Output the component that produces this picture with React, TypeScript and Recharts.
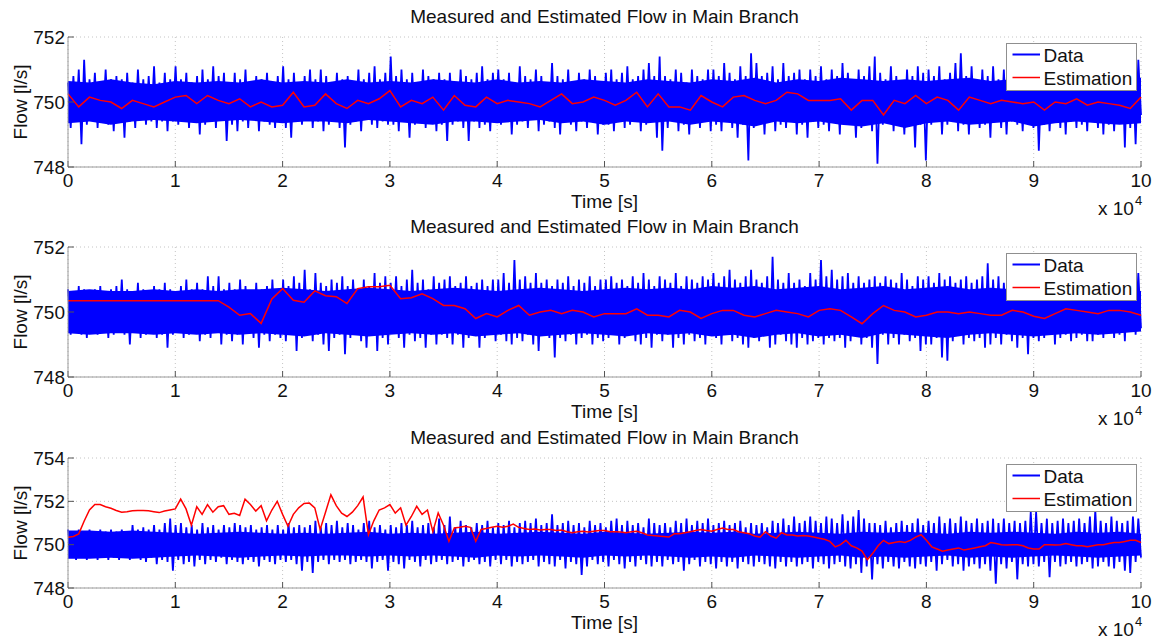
import {
  Area,
  CartesianGrid,
  ComposedChart,
  Legend,
  Line,
  XAxis,
  YAxis
} from "recharts";

const panelTitle = "Measured and Estimated Flow in Main Branch";
const timeTicks = [0, 10000, 20000, 30000, 40000, 50000, 60000, 70000, 80000, 90000, 100000];
const flowTicksNarrow = [748, 750, 752];
const flowTicksWide = [748, 750, 752, 754];

// measured flow, panel 1: dense signal read as alternating peaks / troughs (250 s apart)
const measured1 = [
  750.6, 749.2, 750.8, 749.4, 751.0, 748.7, 751.3, 749.3, 750.7, 749.5, 750.9, 749.2, 750.6, 749.4, 751.0, 749.3, 750.7, 749.1, 750.8, 749.5,
  750.7, 748.9, 750.9, 749.4, 750.6, 749.2, 751.0, 749.5, 750.7, 749.3, 750.8, 749.4, 751.1, 749.2, 750.6, 749.4, 750.9, 749.1, 750.7, 749.4,
  751.1, 749.3, 750.7, 749.5, 750.9, 749.2, 750.6, 749.4, 750.8, 749.0, 751.0, 749.3, 750.7, 749.4, 751.1, 749.2, 750.8, 749.5, 750.9, 748.8,
  750.6, 749.3, 750.9, 749.1, 750.7, 749.4, 751.0, 749.2, 750.6, 749.5, 750.8, 749.1, 750.7, 749.4, 750.9, 749.3, 750.6, 749.2, 750.8, 749.4,
  751.1, 749.2, 750.7, 748.9, 750.9, 749.4, 750.6, 749.3, 750.8, 749.5, 751.0, 749.2, 750.7, 749.4, 751.0, 749.1, 750.8, 749.3, 750.6, 749.4,
  750.9, 749.2, 750.7, 748.6, 750.8, 749.3, 750.6, 749.4, 751.0, 749.1, 750.7, 749.5, 750.9, 749.3, 751.1, 749.2, 750.7, 749.4, 750.9, 749.3,
  751.4, 749.3, 750.8, 749.1, 751.0, 749.4, 750.7, 748.9, 750.9, 749.3, 750.6, 749.4, 751.0, 749.2, 750.8, 749.5, 750.7, 749.1, 750.9, 749.3,
  750.7, 748.8, 750.9, 749.3, 750.6, 749.4, 751.0, 749.2, 750.8, 748.8, 750.7, 749.4, 750.9, 749.2, 751.1, 749.3, 750.7, 749.1, 750.9, 749.4,
  751.0, 749.3, 750.7, 749.4, 750.9, 749.0, 750.6, 749.3, 751.1, 749.4, 750.8, 749.2, 750.7, 749.5, 751.0, 749.1, 750.8, 749.3, 750.6, 749.4,
  751.2, 749.2, 750.8, 749.0, 750.7, 749.4, 751.0, 749.3, 750.6, 749.1, 750.9, 749.4, 750.7, 749.2, 751.0, 749.4, 750.8, 749.0, 750.6, 749.3,
  750.9, 749.3, 751.0, 749.1, 750.7, 749.4, 750.9, 749.2, 751.1, 749.3, 750.7, 749.4, 750.8, 749.1, 751.0, 749.3, 751.2, 749.4, 750.8, 748.9,
  751.4, 748.5, 750.8, 749.2, 750.7, 749.4, 751.0, 749.1, 750.9, 749.3, 750.6, 749.0, 751.0, 749.4, 750.8, 749.2, 750.7, 749.4, 751.0, 749.1,
  751.0, 749.3, 750.8, 749.1, 751.2, 749.4, 750.9, 749.2, 750.7, 748.9, 751.1, 749.3, 750.8, 748.2, 751.5, 749.2, 751.2, 749.4, 750.8, 749.0,
  750.9, 749.4, 751.1, 749.1, 750.7, 749.3, 751.2, 749.2, 750.8, 749.4, 750.9, 749.0, 751.0, 749.3, 750.7, 748.9, 751.0, 749.4, 750.8, 749.2,
  751.1, 749.3, 750.7, 749.1, 751.0, 749.4, 750.8, 749.0, 751.2, 749.3, 750.9, 749.4, 750.7, 748.9, 751.0, 749.2, 750.8, 749.4, 751.1, 749.1,
  751.4, 748.1, 750.9, 749.3, 750.7, 749.4, 751.1, 749.1, 750.8, 749.4, 750.6, 749.0, 751.0, 749.3, 750.8, 748.6, 751.1, 749.3, 750.9, 748.2,
  751.0, 749.3, 750.8, 749.4, 751.1, 749.0, 750.7, 749.3, 750.9, 749.4, 751.2, 749.1, 751.5, 749.3, 750.8, 749.0, 751.1, 749.4, 750.7, 749.2,
  751.0, 749.3, 750.8, 748.9, 751.1, 749.4, 750.7, 749.2, 751.0, 749.0, 750.8, 749.4, 751.1, 749.3, 750.7, 749.1, 750.9, 749.4, 751.0, 749.2,
  751.2, 748.5, 750.8, 749.3, 751.0, 749.1, 750.7, 749.4, 751.1, 749.2, 750.8, 749.0, 751.0, 749.4, 750.7, 749.2, 751.1, 749.3, 750.8, 749.1,
  751.0, 749.4, 750.8, 749.2, 751.2, 749.0, 750.9, 749.3, 751.0, 749.1, 750.7, 749.4, 751.2, 748.6, 751.5, 749.2, 750.9, 748.7, 751.3, 749.6
];

// solid core of the measured band, panel 1 (2000 s apart)
const core1Low = [
  749.35, 749.4, 749.3, 749.4, 749.45, 749.4, 749.35, 749.4, 749.45, 749.4,
  749.35, 749.4, 749.4, 749.35, 749.45, 749.4, 749.35, 749.3, 749.4, 749.4,
  749.35, 749.4, 749.45, 749.35, 749.4, 749.3, 749.4, 749.35, 749.4, 749.3,
  749.4, 749.35, 749.25, 749.4, 749.35, 749.4, 749.3, 749.25, 749.35, 749.2,
  749.35, 749.4, 749.3, 749.35, 749.4, 749.25, 749.35, 749.4, 749.35, 749.3,
  749.35
];
const core1High = [
  750.65, 750.6, 750.7, 750.6, 750.55, 750.65, 750.6, 750.65, 750.6, 750.7,
  750.6, 750.65, 750.6, 750.7, 750.6, 750.65, 750.6, 750.7, 750.65, 750.6,
  750.7, 750.6, 750.65, 750.6, 750.7, 750.65, 750.6, 750.7, 750.65, 750.6,
  750.7, 750.65, 750.75, 750.6, 750.7, 750.65, 750.75, 750.7, 750.65, 750.7,
  750.65, 750.7, 750.75, 750.65, 750.7, 750.7, 750.65, 750.7, 750.65, 750.7,
  750.75
];

// estimated flow, panel 1 (1000 s apart)
const estimated1 = [
  750.25, 749.85, 750.15, 750.05, 750.0, 749.8, 750.05, 749.95, 749.85, 750.0,
  750.15, 750.2, 749.95, 750.2, 750.05, 749.95, 750.1, 749.85, 750.0, 749.85,
  749.9, 750.3, 749.85, 749.9, 750.25, 749.95, 749.8, 750.05, 749.95, 750.1,
  750.35, 749.85, 750.05, 749.95, 750.15, 749.75, 750.2, 749.9, 749.85, 750.15,
  749.95, 750.05, 750.0, 749.95, 749.85, 750.05, 750.25, 749.95, 750.0, 750.15,
  750.05, 749.9, 750.05, 750.3, 749.85, 750.25, 749.85, 749.85, 749.75, 750.2,
  750.0, 749.85, 750.15, 750.2, 750.05, 749.95, 750.05, 750.3, 750.25, 750.05,
  750.05, 750.05, 750.1, 749.75, 750.05, 750.05, 749.6, 750.05, 749.95, 750.2,
  749.95, 750.15, 750.05, 749.75, 750.15, 750.05, 749.95, 750.05, 750.0, 749.95,
  750.0, 749.75, 750.0, 749.95, 750.1, 749.9, 750.0, 749.95, 749.9, 749.8,
  750.15
];

const measured2 = [
  750.7, 749.3, 750.6, 749.4, 750.8, 749.3, 750.7, 749.2, 750.6, 749.4, 750.7, 749.3, 750.8, 749.4, 750.6, 749.2, 750.7, 749.3, 750.8, 749.4,
  751.0, 749.3, 750.7, 749.0, 750.6, 749.4, 750.9, 749.2, 750.7, 749.3, 750.6, 749.4, 750.8, 749.2, 750.7, 749.3, 750.9, 748.9, 750.7, 749.3,
  750.6, 749.4, 750.8, 749.2, 751.0, 749.3, 750.7, 749.4, 750.9, 749.1, 750.7, 749.3, 751.1, 749.2, 750.8, 749.4, 751.1, 749.0, 750.7, 749.3,
  750.9, 749.1, 750.7, 749.3, 751.0, 749.0, 750.8, 749.4, 750.6, 749.2, 750.9, 748.9, 750.7, 749.3, 750.8, 749.1, 751.0, 749.3, 750.7, 749.2,
  751.0, 749.1, 750.8, 749.3, 751.1, 748.8, 750.9, 749.2, 751.3, 749.4, 750.7, 749.1, 751.2, 749.3, 750.9, 749.0, 750.8, 748.8, 751.0, 749.2,
  750.9, 749.3, 751.1, 748.7, 750.8, 749.2, 751.0, 749.4, 750.7, 749.1, 751.0, 748.9, 750.8, 749.3, 751.2, 748.8, 750.9, 749.2, 751.1, 749.0,
  750.9, 749.4, 751.1, 749.2, 750.8, 748.9, 751.0, 749.3, 751.3, 749.1, 750.9, 749.2, 751.0, 748.9, 750.7, 749.3, 751.1, 749.0, 750.9, 749.3,
  751.0, 749.2, 751.1, 749.0, 750.8, 749.3, 750.9, 748.9, 751.1, 749.2, 750.8, 749.3, 750.9, 748.9, 751.0, 749.2, 750.8, 749.4, 751.0, 749.1,
  751.0, 749.3, 751.2, 749.1, 750.9, 749.0, 751.6, 749.2, 751.0, 749.1, 751.1, 749.3, 750.9, 749.0, 751.2, 748.8, 750.9, 749.3, 751.0, 749.2,
  750.8, 748.6, 751.0, 749.2, 750.9, 749.1, 751.1, 749.3, 750.8, 749.0, 751.0, 749.2, 750.9, 749.3, 751.1, 749.0, 750.8, 749.2, 751.0, 749.1,
  751.0, 749.2, 751.1, 749.3, 750.9, 749.0, 751.0, 749.2, 750.8, 749.3, 751.1, 749.1, 750.9, 749.0, 751.2, 749.2, 751.0, 748.9, 750.8, 749.3,
  751.1, 749.1, 751.0, 749.3, 750.9, 748.9, 751.2, 749.2, 750.8, 749.0, 751.1, 749.3, 751.0, 749.1, 750.9, 749.2, 751.1, 749.0, 751.0, 749.3,
  751.2, 749.2, 750.9, 749.0, 751.1, 749.3, 751.3, 749.1, 751.0, 749.2, 750.9, 749.0, 751.1, 748.9, 751.3, 749.2, 751.0, 749.1, 750.9, 749.3,
  751.1, 748.9, 751.7, 749.0, 751.0, 749.3, 750.9, 749.1, 751.2, 749.0, 750.9, 748.9, 751.0, 749.2, 750.8, 749.0, 751.2, 749.1, 751.0, 749.2,
  751.6, 749.0, 751.1, 749.2, 751.3, 749.1, 751.0, 749.2, 751.1, 748.9, 751.2, 749.1, 750.9, 749.3, 751.1, 749.0, 750.9, 749.2, 751.0, 748.9,
  751.1, 748.4, 750.9, 749.3, 751.1, 749.0, 751.0, 749.2, 750.9, 749.0, 751.2, 749.3, 751.0, 749.1, 750.8, 749.2, 751.1, 748.8, 751.0, 749.0,
  751.1, 749.0, 750.9, 749.2, 751.2, 748.6, 751.0, 748.5, 751.1, 749.1, 750.9, 749.3, 751.0, 749.0, 751.1, 749.2, 750.9, 749.1, 751.0, 749.2,
  751.1, 748.9, 751.5, 749.0, 751.0, 749.2, 751.1, 749.0, 750.9, 749.3, 751.0, 749.1, 750.9, 748.9, 751.1, 749.2, 750.9, 748.7, 751.1, 749.2,
  751.0, 749.1, 751.1, 749.2, 751.0, 749.3, 750.9, 749.0, 751.1, 749.2, 751.0, 749.3, 750.8, 749.1, 751.2, 749.2, 751.0, 749.3, 750.9, 749.1,
  751.0, 749.1, 751.2, 749.3, 750.9, 749.2, 751.1, 749.4, 751.0, 749.2, 751.1, 749.3, 750.9, 749.1, 751.2, 749.4, 751.0, 749.3, 751.2, 749.5
];

const core2Low = [
  749.35, 749.3, 749.35, 749.35, 749.3, 749.35, 749.3, 749.35, 749.3, 749.35,
  749.3, 749.25, 749.35, 749.3, 749.25, 749.3, 749.35, 749.3, 749.35, 749.25,
  749.3, 749.35, 749.25, 749.3, 749.35, 749.3, 749.25, 749.35, 749.3, 749.35,
  749.25, 749.3, 749.2, 749.3, 749.35, 749.25, 749.3, 749.2, 749.35, 749.3,
  749.25, 749.2, 749.3, 749.35, 749.3, 749.25, 749.3, 749.35, 749.3, 749.35,
  749.4
];
const core2High = [
  750.65, 750.7, 750.65, 750.65, 750.7, 750.65, 750.7, 750.65, 750.7, 750.7,
  750.75, 750.7, 750.65, 750.7, 750.75, 750.7, 750.65, 750.7, 750.75, 750.7,
  750.65, 750.7, 750.75, 750.7, 750.65, 750.7, 750.75, 750.7, 750.75, 750.7,
  750.8, 750.75, 750.8, 750.7, 750.75, 750.8, 750.7, 750.75, 750.8, 750.7,
  750.75, 750.8, 750.7, 750.75, 750.7, 750.75, 750.7, 750.75, 750.7, 750.7,
  750.65
];

const estimated2 = [
  750.35, 750.35, 750.35, 750.35, 750.35, 750.35, 750.35, 750.35, 750.35, 750.35,
  750.35, 750.35, 750.35, 750.35, 750.35, 750.15, 749.9, 749.95, 749.65, 750.4,
  750.72, 750.36, 750.3, 750.65, 750.5, 750.47, 750.26, 750.72, 750.78, 750.78,
  750.82, 750.41, 750.44, 750.56, 750.41, 750.2, 750.2, 750.1, 749.8, 749.95,
  749.85, 750.05, 750.2, 749.9, 750.0, 750.05, 749.95, 750.05, 750.0, 749.85,
  749.95, 749.95, 749.95, 750.1, 749.9, 749.9, 749.85, 750.05, 750.0, 749.8,
  749.95, 750.05, 750.05, 749.9, 749.85, 749.95, 750.05, 750.0, 749.95, 749.85,
  750.05, 750.1, 750.05, 749.85, 749.64, 749.95, 750.2, 750.05, 750.0, 749.85,
  749.9, 750.0, 750.0, 749.95, 750.0, 749.95, 749.9, 749.9, 750.05, 750.0,
  749.87, 749.8, 749.95, 750.1, 750.05, 750.0, 749.95, 750.05, 750.05, 750.0,
  749.9
];

const measured3 = [
  750.7, 749.4, 750.6, 749.3, 750.7, 749.4, 750.6, 749.3, 750.7, 749.4, 750.6, 749.3, 750.7, 749.4, 750.6, 749.3, 750.7, 749.4, 750.6, 749.3,
  750.7, 749.5, 750.6, 749.3, 750.9, 749.4, 750.7, 749.3, 750.8, 749.2, 750.7, 749.4, 750.9, 749.1, 750.7, 749.3, 751.0, 749.2, 751.2, 748.8,
  750.9, 749.3, 751.0, 749.1, 750.8, 749.2, 750.9, 749.0, 750.7, 749.3, 751.0, 749.1, 750.8, 749.3, 750.9, 749.2, 750.7, 749.4, 750.9, 749.1,
  750.8, 749.3, 751.0, 749.2, 750.9, 749.1, 750.8, 749.3, 750.9, 749.2, 750.7, 749.0, 750.8, 749.3, 750.9, 749.2, 750.7, 749.1, 750.9, 749.3,
  750.7, 749.2, 751.0, 749.3, 750.8, 749.1, 750.9, 748.8, 750.8, 749.2, 750.9, 748.7, 751.1, 749.2, 750.8, 749.3, 751.0, 749.1, 750.9, 749.3,
  751.1, 749.2, 750.8, 749.3, 751.0, 749.1, 750.9, 749.2, 750.7, 749.3, 751.0, 749.2, 751.1, 748.9, 750.8, 749.2, 750.9, 749.3, 750.7, 748.8,
  750.9, 749.2, 750.8, 749.1, 751.0, 748.9, 750.9, 749.3, 751.1, 749.2, 750.8, 749.0, 750.9, 749.3, 751.0, 749.1, 750.8, 749.2, 751.2, 749.3,
  750.9, 749.1, 751.3, 749.2, 750.8, 749.3, 751.1, 749.0, 750.9, 749.2, 750.8, 749.3, 751.0, 749.1, 750.9, 749.2, 751.1, 749.0, 750.8, 749.3,
  751.0, 749.1, 750.9, 749.3, 751.1, 749.0, 750.8, 749.2, 751.0, 749.1, 751.1, 749.2, 751.0, 749.3, 751.2, 749.0, 750.9, 749.2, 751.0, 749.1,
  751.4, 749.0, 750.9, 749.3, 751.0, 748.9, 751.1, 749.2, 750.9, 749.1, 751.0, 748.6, 750.8, 749.0, 751.1, 749.3, 750.9, 749.1, 751.0, 749.2,
  750.8, 749.0, 751.1, 749.3, 751.2, 749.1, 750.9, 748.9, 751.1, 749.2, 750.9, 749.0, 751.0, 749.3, 750.8, 749.1, 751.2, 749.0, 751.0, 749.2,
  750.9, 749.0, 751.0, 749.3, 750.8, 749.1, 751.1, 749.2, 751.0, 748.8, 751.2, 749.1, 750.9, 749.3, 751.1, 749.0, 751.0, 749.2, 751.2, 749.1,
  750.9, 748.9, 751.0, 749.2, 751.1, 749.0, 750.9, 749.2, 751.0, 748.9, 751.1, 749.2, 750.8, 749.1, 751.0, 749.0, 750.9, 749.2, 751.0, 749.1,
  750.8, 749.0, 751.1, 748.9, 751.0, 749.2, 751.2, 749.0, 750.9, 749.2, 751.3, 749.0, 751.0, 749.1, 751.1, 749.2, 751.3, 748.9, 751.1, 749.2,
  751.0, 749.1, 751.3, 748.9, 751.2, 749.1, 751.0, 749.2, 751.4, 749.0, 751.1, 748.9, 751.3, 749.1, 751.6, 748.7, 751.2, 749.0, 751.0, 748.4,
  751.0, 749.1, 750.9, 748.9, 751.1, 749.2, 750.8, 749.0, 751.0, 748.9, 751.1, 749.2, 750.9, 749.0, 751.0, 748.9, 751.2, 749.1, 750.9, 749.0,
  751.1, 749.2, 751.0, 748.8, 751.3, 749.1, 751.0, 749.3, 751.2, 749.0, 751.0, 749.1, 751.3, 748.8, 751.1, 749.0, 751.0, 749.1, 751.2, 748.9,
  751.0, 749.1, 751.1, 748.8, 751.2, 748.2, 751.0, 749.1, 751.2, 748.9, 751.0, 749.2, 751.1, 748.4, 751.0, 749.1, 751.1, 749.0, 751.5, 749.1,
  751.5, 749.0, 751.0, 749.2, 751.2, 748.5, 751.0, 749.2, 751.1, 749.0, 751.2, 749.1, 751.0, 749.2, 751.1, 749.0, 751.2, 749.1, 751.0, 749.2,
  751.3, 748.9, 751.6, 749.0, 751.1, 749.2, 751.0, 749.0, 751.3, 748.9, 751.1, 749.2, 751.0, 748.8, 751.1, 748.7, 751.3, 749.2, 751.2, 749.4
];

const core3Low = [
  749.35, 749.35, 749.4, 749.35, 749.4, 749.45, 749.5, 749.45, 749.4, 749.45,
  749.5, 749.45, 749.5, 749.5, 749.45, 749.5, 749.45, 749.5, 749.45, 749.4,
  749.5, 749.45, 749.5, 749.45, 749.4, 749.5, 749.45, 749.5, 749.45, 749.4,
  749.45, 749.4, 749.5, 749.45, 749.4, 749.45, 749.5, 749.4, 749.45, 749.4,
  749.45, 749.5, 749.4, 749.45, 749.4, 749.45, 749.5, 749.45, 749.4, 749.45,
  749.5
];
const core3High = [
  750.65, 750.65, 750.6, 750.65, 750.6, 750.55, 750.5, 750.55, 750.6, 750.55,
  750.5, 750.55, 750.5, 750.55, 750.6, 750.5, 750.55, 750.5, 750.55, 750.6,
  750.5, 750.55, 750.6, 750.55, 750.5, 750.6, 750.55, 750.5, 750.55, 750.6,
  750.55, 750.6, 750.5, 750.55, 750.6, 750.55, 750.5, 750.6, 750.55, 750.6,
  750.55, 750.5, 750.6, 750.55, 750.6, 750.55, 750.5, 750.6, 750.55, 750.6,
  750.5
];

// estimated flow, panel 3 (500 s apart)
const estimated3 = [
  750.34, 750.38, 750.5, 751.08, 751.6, 751.85, 751.85, 751.75, 751.68, 751.58,
  751.5, 751.52, 751.56, 751.58, 751.58, 751.56, 751.52, 751.48, 751.55, 751.6,
  751.65, 752.1, 751.65, 750.9, 751.75, 751.4, 751.85, 751.5, 751.75, 751.8,
  751.4, 751.45, 751.35, 752.1, 751.85, 751.55, 751.8, 751.1, 751.6, 752.0,
  751.4, 750.85, 751.4, 751.7, 751.9, 751.92, 751.7, 750.7, 751.5, 752.3,
  751.8, 751.45, 751.3, 751.5, 751.8, 752.2, 750.46, 751.1, 751.6, 751.7,
  751.85, 751.46, 751.7, 750.9, 751.3, 751.77, 751.4, 751.6, 750.6, 751.46,
  750.9, 750.15, 750.77, 750.8, 750.85, 750.8, 750.15, 750.7, 750.75, 750.8,
  750.85, 750.8, 750.85, 750.95, 750.8, 750.75, 750.7, 750.72, 750.68, 750.7,
  750.7, 750.65, 750.68, 750.6, 750.55, 750.6, 750.62, 750.58, 750.62, 750.65,
  750.65, 750.6, 750.6, 750.58, 750.55, 750.6, 750.62, 750.55, 750.45, 750.42,
  750.4, 750.38, 750.35, 750.5, 750.5, 750.55, 750.6, 750.65, 750.7, 750.65,
  750.62, 750.7, 750.77, 750.7, 750.7, 750.6, 750.55, 750.5, 750.4, 750.35,
  750.6, 750.4, 750.3, 750.55, 750.45, 750.45, 750.4, 750.42, 750.4, 750.35,
  750.3, 750.25, 750.15, 749.9, 750.0, 750.2, 749.95, 749.85, 749.7, 749.3,
  749.6, 749.95, 750.2, 750.05, 750.1, 750.15, 750.1, 750.2, 750.35, 750.46,
  750.2, 749.9, 749.8, 749.7, 749.75, 749.8, 749.85, 749.75, 749.8, 749.85,
  749.9, 749.95, 750.1, 750.05, 750.0, 749.98, 750.0, 750.0, 749.95, 749.85,
  749.8, 749.8, 750.0, 750.0, 749.98, 750.0, 750.05, 750.0, 749.95, 749.95,
  749.9, 749.95, 750.0, 750.0, 750.05, 750.1, 750.1, 750.15, 750.2, 750.2,
  750.1
];

const FONT = "'Liberation Sans', Arial, Helvetica, sans-serif";
const TEXT = "#111";
const BLUE = "#0000ff";
const RED = "#ff0000";

function toRows(values: number[]) {
  const step = 100000 / (values.length - 1);
  return values.map((flow, i) => ({ time: i * step, flow }));
}

function toBand(low: number[], high: number[]) {
  const step = 100000 / (low.length - 1);
  return low.map((lo, i) => ({ time: i * step, band: [lo, high[i]] }));
}

function FlowLegend() {
  return (
    <svg width={131} height={48} style={{ display: "block" }}>
      <rect x={0.5} y={0.5} width={130} height={47} fill="#fff" stroke="#8f8f8f" />
      <line x1={6.5} x2={34} y1={11.5} y2={11.5} stroke={BLUE} strokeWidth={2} />
      <text x={37.5} y={18.7} fontSize={19} fill={TEXT} fontFamily={FONT}>Data</text>
      <line x1={6.5} x2={34} y1={34.5} y2={34.5} stroke={RED} strokeWidth={1.5} />
      <text x={37.5} y={42} fontSize={19} fill={TEXT} fontFamily={FONT}>Estimation</text>
    </svg>
  );
}

const overlayText = {
  position: "absolute" as const,
  fontSize: 19,
  lineHeight: "15px",
  color: TEXT,
  whiteSpace: "nowrap" as const
};

function FlowPanel({
  top,
  measured,
  coreLow,
  coreHigh,
  estimated,
  yTicks
}: {
  top: number;
  measured: number[];
  coreLow: number[];
  coreHigh: number[];
  estimated: number[];
  yTicks: number[];
}) {
  const yDomain = [yTicks[0], yTicks[yTicks.length - 1]];
  const frame = { stroke: "#9a9a9a" };
  const tickMark = { stroke: "#555" };

  return (
    <div style={{ position: "absolute", left: 0, top, width: 1163, height: 210 }}>
      <div style={{ ...overlayText, left: 0, width: 1209, top: 8.6, textAlign: "center" }}>{panelTitle}</div>
      <ComposedChart width={1163} height={210} margin={{ top: 37, right: 22, bottom: 0, left: 8 }}>
        <CartesianGrid stroke="#c4c4c4" strokeDasharray="1 3" />
        <XAxis
          type="number"
          dataKey="time"
          domain={[0, 100000]}
          ticks={timeTicks}
          interval={0}
          tickFormatter={(v) => String(v / 10000)}
          height={43}
          tickSize={-6}
          tickMargin={13}
          axisLine={frame}
          tickLine={tickMark}
          tick={{ fontSize: 19, fill: TEXT }}
        />
        <XAxis
          xAxisId="top"
          orientation="top"
          type="number"
          dataKey="time"
          domain={[0, 100000]}
          ticks={timeTicks}
          interval={0}
          height={0}
          tickSize={-6}
          axisLine={frame}
          tickLine={tickMark}
          tick={false}
        />
        <YAxis
          type="number"
          domain={yDomain}
          ticks={yTicks}
          interval={0}
          width={60}
          tickSize={-6}
          tickMargin={9}
          axisLine={frame}
          tickLine={tickMark}
          tick={{ fontSize: 19, fill: TEXT }}
          label={{
            value: "Flow [l/s]",
            angle: -90,
            position: "insideLeft",
            offset: 12,
            fontSize: 19,
            fill: TEXT,
            style: { textAnchor: "middle" }
          }}
        />
        <YAxis
          yAxisId="right"
          orientation="right"
          type="number"
          domain={yDomain}
          ticks={yTicks}
          interval={0}
          width={0}
          tickSize={-6}
          axisLine={frame}
          tickLine={tickMark}
          tick={false}
        />
        <Area
          data={toBand(coreLow, coreHigh)}
          dataKey="band"
          type="linear"
          stroke="none"
          fill={BLUE}
          fillOpacity={1}
          dot={false}
          activeDot={false}
          isAnimationActive={false}
        />
        <Line
          data={toRows(measured)}
          dataKey="flow"
          type="linear"
          stroke={BLUE}
          strokeWidth={1.8}
          dot={false}
          activeDot={false}
          isAnimationActive={false}
        />
        <Line
          data={toRows(estimated)}
          dataKey="flow"
          type="linear"
          stroke={RED}
          strokeWidth={1.5}
          dot={false}
          activeDot={false}
          isAnimationActive={false}
        />
        <Legend
          layout="vertical"
          align="center"
          verticalAlign="middle"
          content={() => <FlowLegend />}
          wrapperStyle={{ left: 1006, top: 43, width: 131, height: 48 }}
        />
      </ComposedChart>
      <div style={{ ...overlayText, left: 0, width: 1209, top: 194.4, textAlign: "center" }}>Time [s]</div>
      <div style={{ ...overlayText, left: 1098, top: 201 }}>
        x 10
        <span style={{ fontSize: 13, position: "relative", top: -10, marginLeft: 1 }}>4</span>
      </div>
    </div>
  );
}

export default function App() {
  return (
    <div
      style={{
        position: "absolute",
        left: 0,
        top: 0,
        width: 1163,
        height: 643,
        background: "#fff",
        fontFamily: FONT,
        overflow: "hidden"
      }}
    >
      <FlowPanel top={0} measured={measured1} coreLow={core1Low} coreHigh={core1High} estimated={estimated1} yTicks={flowTicksNarrow} />
      <FlowPanel top={210} measured={measured2} coreLow={core2Low} coreHigh={core2High} estimated={estimated2} yTicks={flowTicksNarrow} />
      <FlowPanel top={421} measured={measured3} coreLow={core3Low} coreHigh={core3High} estimated={estimated3} yTicks={flowTicksWide} />
    </div>
  );
}
